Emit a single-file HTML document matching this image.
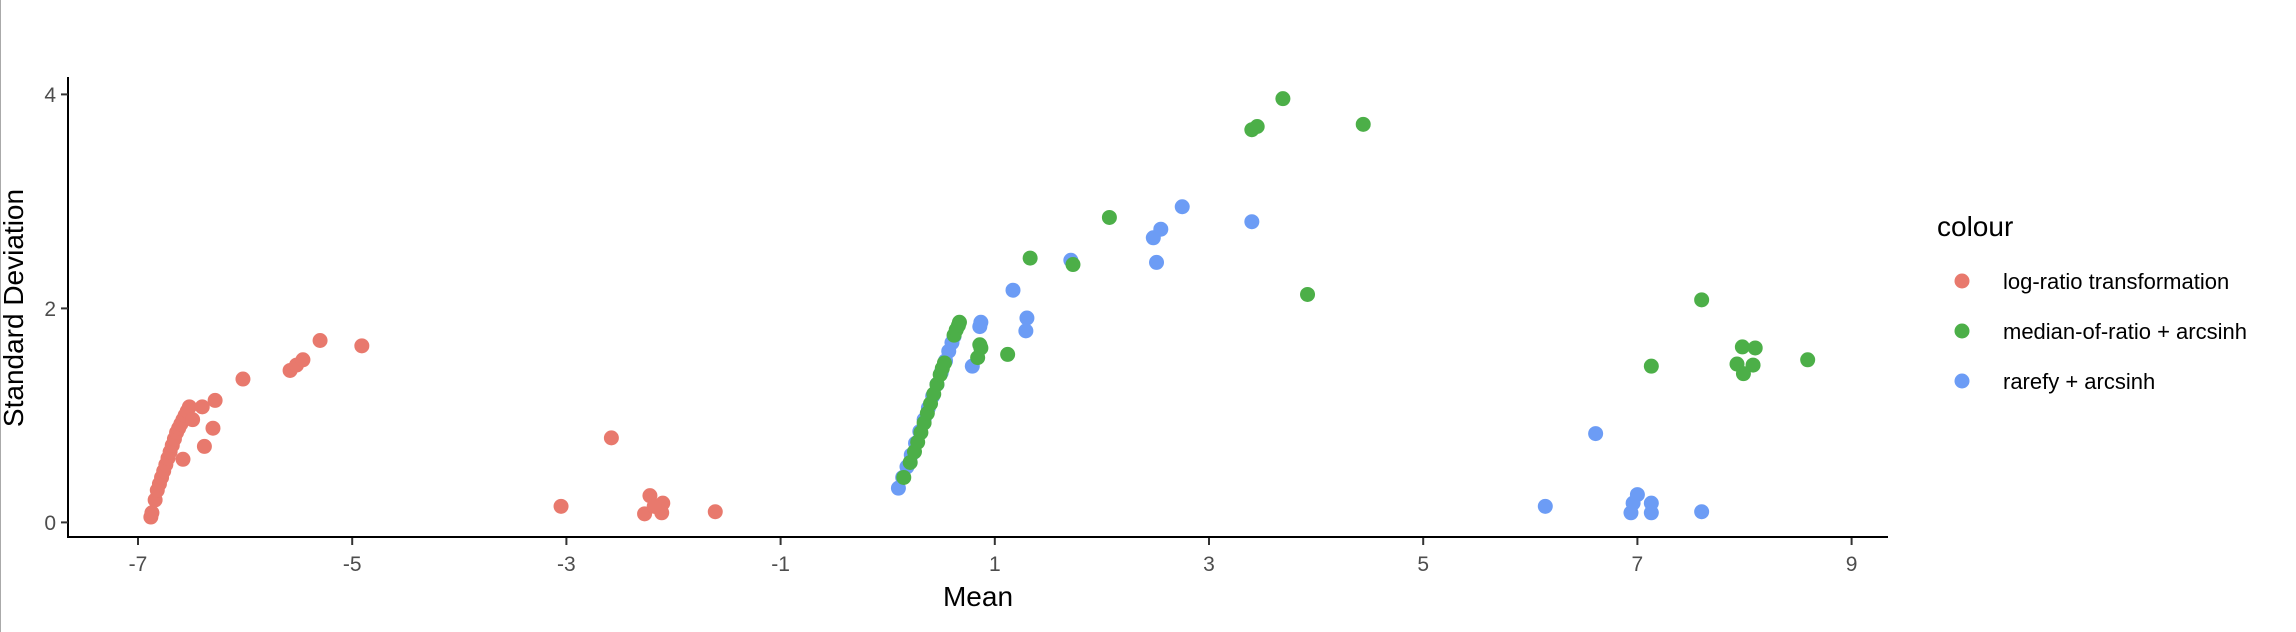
<!DOCTYPE html>
<html><head><meta charset="utf-8"><style>
html,body{margin:0;padding:0;background:#fff;}
svg{display:block;font-family:"Liberation Sans",sans-serif;}
</style></head><body>
<svg id="chart" width="2296" height="632" viewBox="0 0 2296 632">
<line x1="0.5" y1="0" x2="0.5" y2="632" stroke="#aaa" stroke-width="1"/>
<g id="marks"></g>
<g id="axes"></g>
<text x="978" y="606" font-size="28" text-anchor="middle" fill="#000">Mean</text>
<text transform="translate(23,308) rotate(-90)" font-size="28" text-anchor="middle" fill="#000">Standard Deviation</text>
<g>
<text x="1937" y="236" font-size="28" fill="#000">colour</text>
<g id="legend-items"></g>
</g>
</svg>
<script>
const xTicks=[-7,-5,-3,-1,1,3,5,7,9];
const yTicks=[0,2,4];
const seriesNames=["log-ratio transformation","median-of-ratio + arcsinh","rarefy + arcsinh"];
const seriesColors=["#E8796D","#4CAF48","#6C9CF5"];
const redX=[-6.88,-6.87,-6.84,-6.82,-6.80,-6.78,-6.76,-6.74,-6.72,-6.70,-6.68,-6.66,-6.64,-6.62,-6.60,-6.58,-6.56,-6.54,-6.52,-6.49,-6.40,-6.28,-6.30,-6.38,-6.58,-6.02,-5.58,-5.52,-5.46,-5.30,-4.91,-2.58,-3.05,-2.22,-2.27,-2.10,-2.11,-2.18,-1.61];
const redY=[0.05,0.09,0.21,0.30,0.36,0.42,0.48,0.54,0.60,0.66,0.72,0.78,0.84,0.88,0.92,0.96,1.00,1.04,1.08,0.96,1.08,1.14,0.88,0.71,0.59,1.34,1.42,1.47,1.52,1.70,1.65,0.79,0.15,0.25,0.08,0.18,0.09,0.15,0.10];
const blueX=[0.10,0.14,0.18,0.22,0.26,0.30,0.34,0.38,0.42,0.46,0.50,0.54,0.57,0.60,0.62,0.79,0.86,0.87,1.17,1.30,1.29,1.71,2.48,2.55,2.51,2.75,3.40,6.61,6.14,7.00,6.96,6.94,7.13,7.13,7.60];
const blueY=[0.32,0.42,0.52,0.63,0.74,0.85,0.96,1.07,1.18,1.29,1.40,1.51,1.60,1.68,1.74,1.46,1.83,1.87,2.17,1.91,1.79,2.45,2.66,2.74,2.43,2.95,2.81,0.83,0.15,0.26,0.18,0.09,0.18,0.09,0.10];
const greenX=[0.15,0.21,0.25,0.28,0.31,0.34,0.37,0.40,0.43,0.46,0.49,0.51,0.53,0.62,0.64,0.66,0.67,0.84,0.87,0.86,1.12,1.33,1.73,2.07,3.40,3.45,3.69,4.44,3.92,7.60,7.13,7.98,8.10,7.93,8.08,7.99,8.59];
const greenY=[0.42,0.56,0.66,0.75,0.84,0.93,1.02,1.11,1.20,1.29,1.38,1.44,1.49,1.75,1.80,1.84,1.87,1.54,1.63,1.66,1.57,2.47,2.41,2.85,3.67,3.70,3.96,3.72,2.13,2.08,1.46,1.64,1.63,1.48,1.47,1.39,1.52];
const X0=138, XS=107.1, Y0=522.4, YS=107;
function xs(v){return X0+(v+7)*XS;}
function ys(v){return Y0-v*YS;}
const NS="http://www.w3.org/2000/svg";
const axes=document.getElementById('axes');
function mk(tag,attrs,parent){const e=document.createElementNS(NS,tag);for(const k in attrs)e.setAttribute(k,attrs[k]);parent.appendChild(e);return e;}
const ya=mk('line',{x1:68,y1:77,x2:68,y2:538,stroke:'#000','stroke-width':2},axes);


const xa=mk('line',{x1:67,y1:537,x2:1888,y2:537,stroke:'#000','stroke-width':2},axes);


xTicks.forEach(t=>{
  const l=mk('line',{x1:xs(t),y1:538,x2:xs(t),y2:545,stroke:'#333','stroke-width':2},axes);
  
  
  const tx=mk('text',{x:xs(t),y:571,'font-size':21,'text-anchor':'middle',fill:'#4d4d4d'},axes);
  tx.textContent=String(t);
  
  
});
yTicks.forEach(t=>{
  const l=mk('line',{x1:61,y1:ys(t),x2:68,y2:ys(t),stroke:'#333','stroke-width':2},axes);
  
  
  const tx=mk('text',{x:56,y:ys(t)+7.5,'font-size':21,'text-anchor':'end',fill:'#4d4d4d'},axes);
  tx.textContent=String(t);
  
  
});
const marks=document.getElementById('marks');
function drawSeries(xsArr,ysArr,color,name){
  const g=mk('g',{},marks);
  
  
  xsArr.forEach((v,i)=>{
    const c=mk('circle',{cx:xs(v),cy:ys(ysArr[i]),r:7.5,fill:color},g);
    
    
  });
}
drawSeries(redX,redY,seriesColors[0],'series-log-ratio');
drawSeries(blueX,blueY,seriesColors[2],'series-rarefy');
drawSeries(greenX,greenY,seriesColors[1],'series-median-of-ratio');
const li=document.getElementById('legend-items');
seriesNames.forEach((n,i)=>{
  const y=281+i*50;
  const c=mk('circle',{cx:1962,cy:y,r:7.5,fill:seriesColors[i]},li);
  
  
  const t=mk('text',{x:2003,y:y+8,'font-size':22,fill:'#000'},li);
  t.textContent=n;
  
  
});
</script>
</body></html>
